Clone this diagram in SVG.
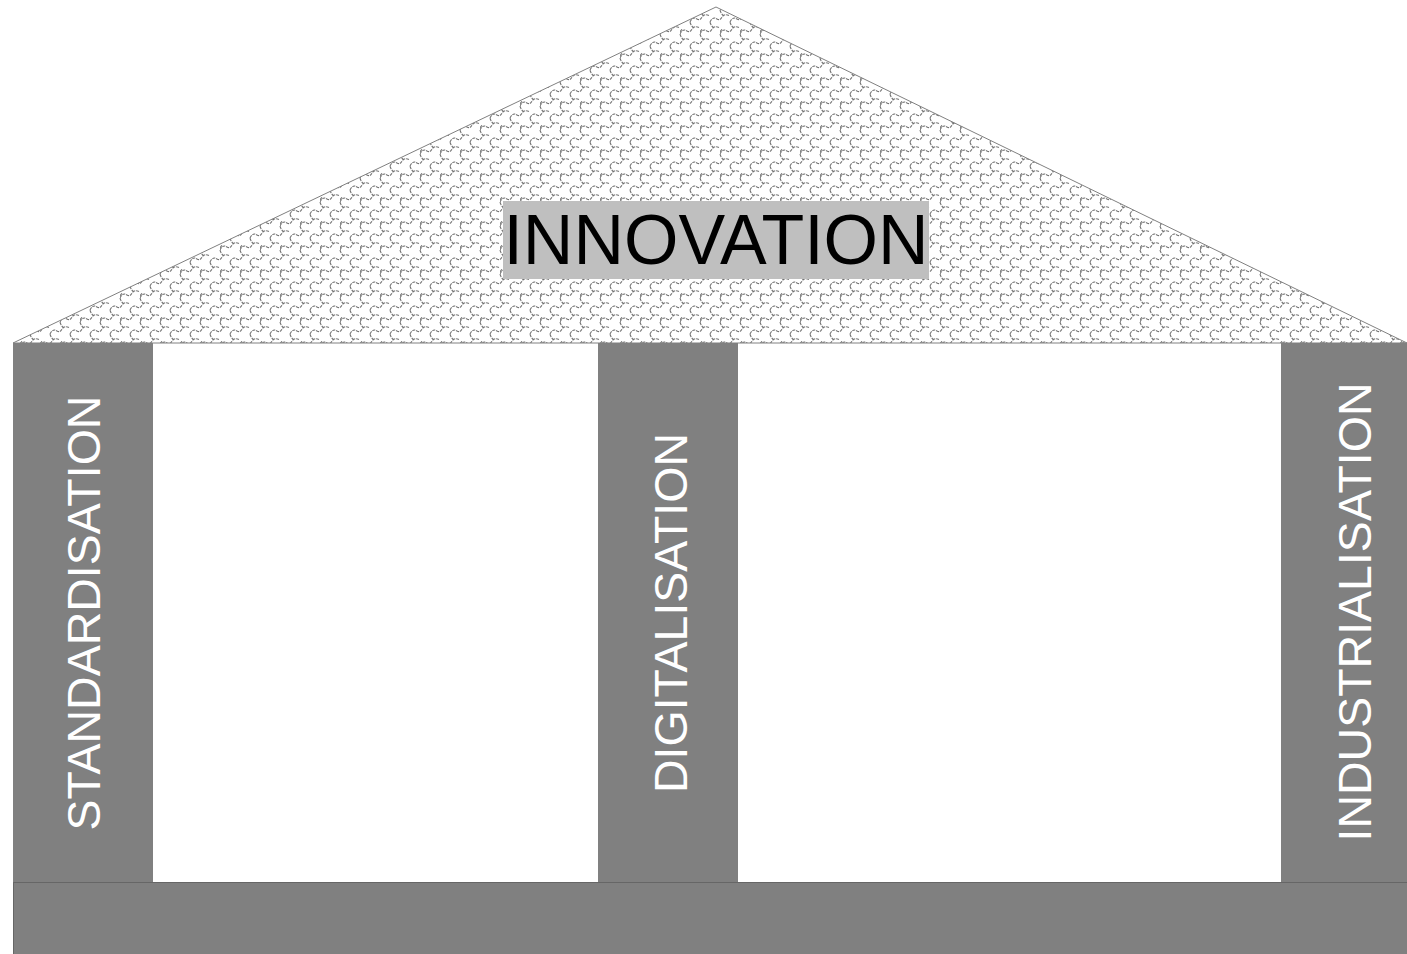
<svg xmlns="http://www.w3.org/2000/svg" width="1407" height="954" viewBox="0 0 1407 954">
<style>
.pillar{fill:#808080}
.vt{font-family:"Liberation Sans",Arial,sans-serif;font-size:46.5px;fill:#ffffff;text-anchor:middle}
.title{font-family:"Liberation Sans",Arial,sans-serif;font-size:70px;fill:#000000;text-anchor:middle}
</style>
<defs>
<pattern id="scales" patternUnits="userSpaceOnUse" width="20" height="24">
<rect width="20" height="24" fill="#ffffff"/>
<path d="M0,10 Q3,4 7,7 Q10,9 12,5 Q15,1 20,4 M10,22 Q13,16 17,19 Q20,21 22,17 M-10,22 Q-7,16 -3,19 Q0,21 2,17 Q5,13 10,16 M0,10 Q1,14 4,16 M20,10 Q21,14 24,16 M10,22 Q11,26 14,28 M10,-2 Q11,2 14,4 M-10,10 Q-7,4 -3,7 Q0,9 2,5" fill="none" stroke="#737373" stroke-width="1.1" stroke-dasharray="3,1"/>
</pattern>
</defs>
<g id="roof">
<polygon points="13,343 716,7 1407,343" fill="url(#scales)" stroke="#808080" stroke-width="1"/>
</g>
<g id="innovation">
<rect x="503" y="201" width="426" height="78" fill="#bfbfbf"/>
<text class="title" x="716" y="264">INNOVATION</text>
</g>
<g id="standardisation">
<rect class="pillar" x="13" y="343" width="140" height="539"/>
<text class="vt" transform="translate(100,613) rotate(-90)">STANDARDISATION</text>
</g>
<g id="digitalisation">
<rect class="pillar" x="598" y="343" width="140" height="539"/>
<text class="vt" transform="translate(687,613) rotate(-90)">DIGITALISATION</text>
</g>
<g id="industrialisation">
<rect class="pillar" x="1281" y="343" width="126" height="539"/>
<text class="vt" transform="translate(1371,612) rotate(-90)">INDUSTRIALISATION</text>
</g>
<g id="base">
<rect x="13" y="882" width="1394" height="72" fill="#808080"/>
<line x1="13" y1="882.5" x2="1407" y2="882.5" stroke="#666666" stroke-width="1"/>
<line x1="13.5" y1="882" x2="13.5" y2="954" stroke="#666666" stroke-width="1"/>
</g>
<g id="connectors"></g>
</svg>
